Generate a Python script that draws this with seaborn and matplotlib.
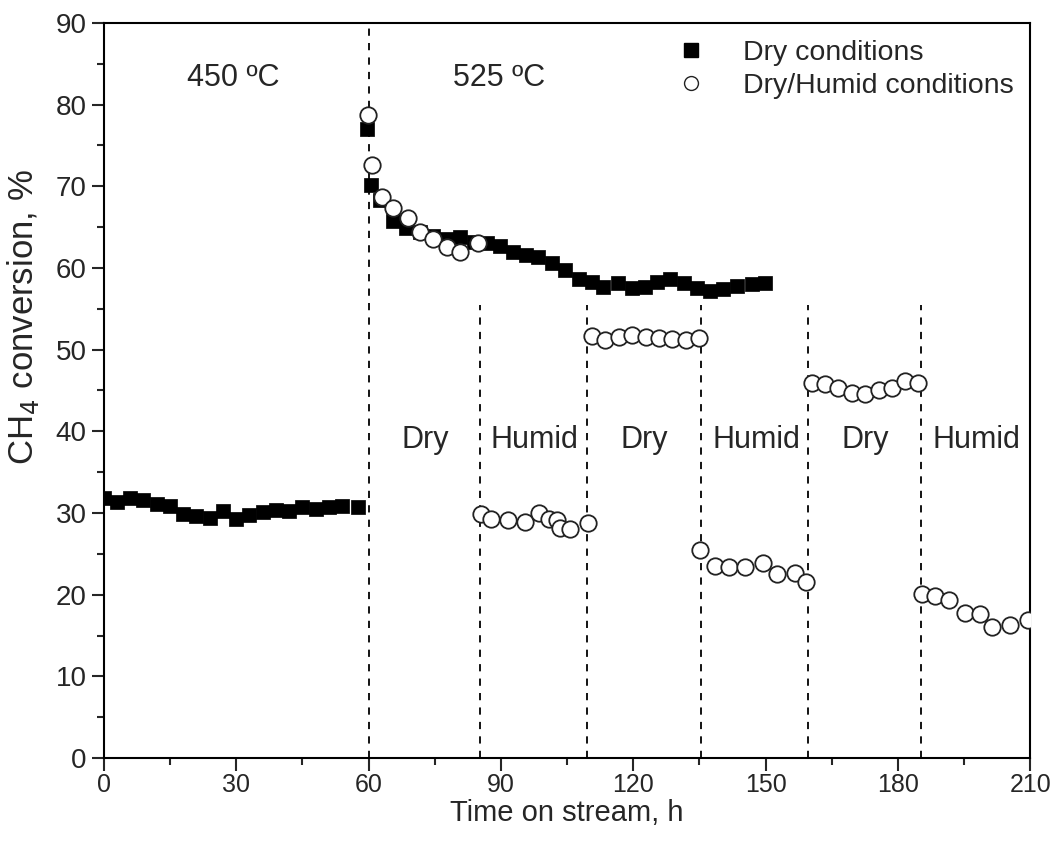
import matplotlib
matplotlib.use("Agg")
import matplotlib.pyplot as plt
import seaborn as sns
import pandas as pd
from matplotlib.ticker import MultipleLocator
from matplotlib.lines import Line2D

sns.set_style("ticks")
plt.rcParams['font.family'] = ['Liberation Sans', 'DejaVu Sans']

# Dry conditions (filled squares)
dry_t = [0, 3, 6, 9, 12, 15, 18, 21, 24, 27, 30, 33, 36, 39, 42, 45, 48, 51, 54, 57.6,
         59.6, 60.5, 62.6, 65.6, 68.6, 71.6, 74.6, 77.7, 80.7, 83.8, 86.8, 89.8, 92.8, 95.8,
         98.5, 101.5, 104.5, 107.6, 110.6, 113.2, 116.6, 119.7, 122.7, 125.3, 128.3, 131.4,
         134.4, 137.4, 140.4, 143.4, 146.8, 149.8]
dry_v = [31.8, 31.4, 31.8, 31.6, 31.1, 30.9, 29.9, 29.6, 29.4, 30.3, 29.3, 29.8, 30.1, 30.4,
         30.3, 30.7, 30.5, 30.7, 30.9, 30.7,
         77.0, 70.2, 68.3, 65.7, 64.9, 64.4, 63.9, 63.6, 63.8, 63.2, 63.0, 62.7, 62.0, 61.6,
         61.4, 60.6, 59.8, 58.7, 58.3, 57.7, 58.1, 57.5, 57.7, 58.3, 58.6, 58.1,
         57.5, 57.2, 57.4, 57.8, 58.0, 58.1]

# Dry/Humid conditions (open circles)
hum_t = [59.9, 60.7, 63.0, 65.6, 69.0, 71.7, 74.7, 77.7, 80.7, 84.9,
         85.6, 87.7, 91.7, 95.5, 98.7, 101.0, 102.6, 103.4, 105.7, 109.7,
         110.7, 113.6, 116.8, 119.7, 122.8, 125.8, 128.8, 131.9, 134.9,
         135.1, 138.5, 141.6, 145.4, 149.5, 152.5, 156.7, 159.2,
         160.5, 163.5, 166.5, 169.5, 172.6, 175.6, 178.6, 181.6, 184.6,
         185.4, 188.4, 191.5, 195.2, 198.5, 201.3, 205.3, 209.4]
hum_v = [78.7, 72.6, 68.7, 67.3, 66.1, 64.4, 63.6, 62.6, 62.0, 63.0,
         29.9, 29.3, 29.2, 28.9, 30.0, 29.3, 29.2, 28.2, 28.0, 28.8,
         51.7, 51.2, 51.6, 51.8, 51.6, 51.4, 51.3, 51.2, 51.4,
         25.5, 23.5, 23.4, 23.4, 23.9, 22.5, 22.6, 21.6,
         45.9, 45.75, 45.3, 44.65, 44.6, 45.1, 45.3, 46.1, 45.9,
         20.1, 19.8, 19.4, 17.8, 17.6, 16.0, 16.3, 16.9]

switch_t = [85.3, 109.5, 135.4, 159.6, 185.3]
phase_labels = ["Dry", "Humid", "Dry", "Humid", "Dry", "Humid"]
phase_x = [72.8, 97.7, 122.4, 147.8, 172.6, 197.7]
temp_labels = ["450 ºC", "525 ºC"]
temp_x = [29.3, 89.6]

dry_df = pd.DataFrame({"t": dry_t, "v": dry_v})
hum_df = pd.DataFrame({"t": hum_t, "v": hum_v})

fig = plt.figure(figsize=(10.59, 8.43), dpi=100)
ax = fig.add_axes([0.098, 0.1008, 0.875, 0.872])

sns.scatterplot(data=dry_df, x="t", y="v", marker="s", s=110, color="black",
                edgecolor="black", linewidth=0.5, ax=ax, zorder=3)
sns.scatterplot(data=hum_df, x="t", y="v", marker="o", s=140, facecolor="white",
                edgecolor="#222222", linewidth=1.3, ax=ax, zorder=4)

ax.vlines(60, 0, 90, colors="black", linestyles=(0, (4, 4)), linewidth=1.3, zorder=2)
ax.vlines(switch_t, 0, 55.5, colors="black", linestyles=(0, (4, 4)), linewidth=1.3, zorder=2)

for lbl, x in zip(phase_labels, phase_x):
    ax.text(x, 38.9, lbl, ha="center", va="center", fontsize=22)
for lbl, x in zip(temp_labels, temp_x):
    ax.text(x, 83.3, lbl, ha="center", va="center", fontsize=22)

ax.set_xlim(0, 210)
ax.set_ylim(0, 90)
ax.xaxis.set_major_locator(MultipleLocator(30))
ax.xaxis.set_minor_locator(MultipleLocator(15))
ax.yaxis.set_major_locator(MultipleLocator(10))
ax.yaxis.set_minor_locator(MultipleLocator(5))
ax.tick_params(axis="both", which="major", direction="out", length=9, width=1.5,
               top=False, right=False)
ax.tick_params(axis="both", which="minor", direction="out", length=5, width=1.5,
               top=False, right=False)
ax.tick_params(axis="y", which="major", labelsize=20)
ax.tick_params(axis="x", which="major", labelsize=18, pad=2)
for sp in ax.spines.values():
    sp.set_visible(True)
    sp.set_linewidth(1.5)
    sp.set_color("black")

ax.set_xlabel("Time on stream, h", fontsize=21, labelpad=1)
ax.set_ylabel("CH$_4$ conversion, %", fontsize=25)
ax.yaxis.set_label_coords(-0.068, 0.6)

handles = [Line2D([], [], marker="s", linestyle="none", color="black", markersize=10),
           Line2D([], [], marker="o", linestyle="none", markerfacecolor="white",
                  markeredgecolor="#222222", markersize=10, markeredgewidth=1.0)]
ax.legend(handles, ["Dry conditions", "Dry/Humid conditions"], loc="upper right",
          frameon=False, fontsize=20.5, handletextpad=0.8, bbox_to_anchor=(1.0, 1.0),
          borderaxespad=0.2, labelspacing=0.25)

fig.savefig("out.png", dpi=100)
